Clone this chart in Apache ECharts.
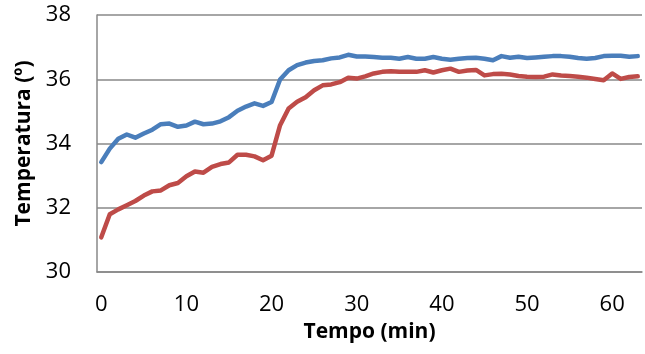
<!DOCTYPE html>
<html>
<head>
<meta charset="utf-8">
<script src="https://cdn.jsdelivr.net/npm/echarts@6/dist/echarts.min.js"></script>
<style>
  html, body { margin: 0; padding: 0; background: #fff; }
  #chart { width: 645px; height: 354px; }
</style>
</head>
<body>
<div id="chart"></div>
<script>
// Time in minutes (one reading per minute)
const minutes = [
  0, 1, 2, 3, 4, 5, 6, 7, 8, 9,
  10, 11, 12, 13, 14, 15, 16, 17, 18, 19,
  20, 21, 22, 23, 24, 25, 26, 27, 28, 29,
  30, 31, 32, 33, 34, 35, 36, 37, 38, 39,
  40, 41, 42, 43, 44, 45, 46, 47, 48, 49,
  50, 51, 52, 53, 54, 55, 56, 57, 58, 59,
  60, 61, 62, 63
];

// Upper (blue) temperature series, ºC
const tempBlue = [
  33.42, 33.84, 34.15, 34.28, 34.18, 34.31, 34.43, 34.60, 34.62, 34.52,
  34.56, 34.68, 34.60, 34.62, 34.69, 34.82, 35.02, 35.15, 35.25, 35.17,
  35.29, 35.99, 36.28, 36.44, 36.52, 36.57, 36.59, 36.65, 36.68, 36.76,
  36.71, 36.71, 36.69, 36.67, 36.67, 36.64, 36.69, 36.64, 36.64, 36.69,
  36.64, 36.61, 36.64, 36.66, 36.67, 36.64, 36.59, 36.72, 36.67, 36.70,
  36.66, 36.68, 36.70, 36.72, 36.72, 36.70, 36.66, 36.64, 36.66, 36.72,
  36.73, 36.73, 36.70, 36.72
];

// Lower (red) temperature series, ºC
const tempRed = [
  31.08, 31.80, 31.95, 32.08, 32.21, 32.38, 32.51, 32.54, 32.70, 32.77,
  32.98, 33.13, 33.09, 33.27, 33.36, 33.41, 33.65, 33.65, 33.60, 33.48,
  33.62, 34.57, 35.09, 35.30, 35.44, 35.66, 35.81, 35.84, 35.91, 36.05,
  36.02, 36.09, 36.18, 36.23, 36.25, 36.23, 36.23, 36.23, 36.28, 36.21,
  36.28, 36.33, 36.23, 36.27, 36.29, 36.12, 36.16, 36.17, 36.15, 36.10,
  36.08, 36.07, 36.08, 36.15, 36.12, 36.10, 36.08, 36.05, 36.01, 35.97,
  36.18, 36.01, 36.07, 36.09
];

// Value-axis range and step
const yMin = 30, yMax = 38, yStep = 2;

const gridGray = '#888888';
const textFont = '"Open Sans", "DejaVu Sans", sans-serif';

const chart = echarts.init(document.getElementById('chart'), null, { renderer: 'canvas' });

chart.setOption({
  animation: false,
  backgroundColor: '#ffffff',
  grid: { left: 97, right: 3, top: 15, bottom: 82, containLabel: false },
  xAxis: {
    type: 'category',
    data: minutes,
    boundaryGap: true,
    name: 'Tempo (min)',
    nameLocation: 'middle',
    nameGap: 50,
    nameTextStyle: { fontFamily: textFont, fontWeight: 'bold', fontSize: 21, color: '#000' },
    axisLine: { lineStyle: { color: gridGray, width: 1.5 } },
    axisTick: { show: false },
    axisLabel: {
      interval: function (idx) { return idx % 10 === 0; },
      margin: 22,
      fontFamily: textFont, fontSize: 22, color: '#000'
    },
    splitLine: { show: false }
  },
  yAxis: {
    type: 'value',
    min: yMin, max: yMax, interval: yStep,
    name: 'Temperatura (º)',
    nameLocation: 'middle',
    nameGap: 60,
    nameRotate: 90,
    nameTextStyle: { fontFamily: textFont, fontWeight: 'bold', fontSize: 21, color: '#000' },
    axisLine: { show: true, lineStyle: { color: gridGray, width: 1.5 } },
    axisTick: { show: false },
    axisLabel: { margin: 26, fontFamily: textFont, fontSize: 22, color: '#000' },
    splitLine: { show: true, lineStyle: { color: gridGray, width: 1.5 } }
  },
  series: [
    {
      type: 'line',
      data: tempBlue,
      showSymbol: false,
      lineStyle: { color: '#4A7EBB', width: 4.5, join: 'round', cap: 'round' },
      itemStyle: { color: '#4A7EBB' }
    },
    {
      type: 'line',
      data: tempRed,
      showSymbol: false,
      lineStyle: { color: '#BE4B48', width: 4.5, join: 'round', cap: 'round' },
      itemStyle: { color: '#BE4B48' }
    }
  ]
});
</script>
</body>
</html>
